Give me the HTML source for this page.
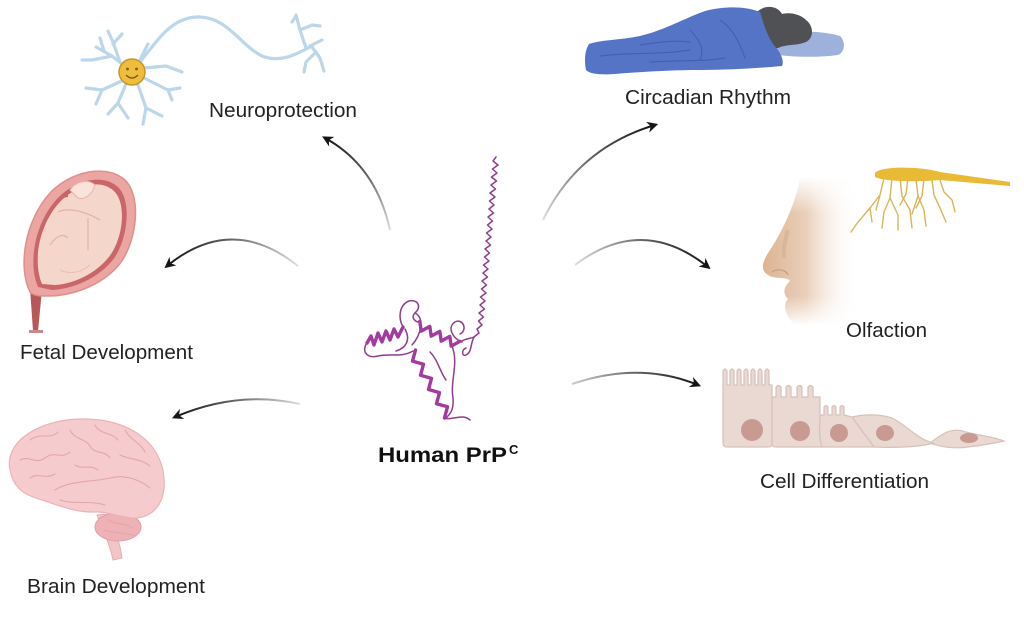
<!DOCTYPE html>
<html>
<head>
<meta charset="utf-8">
<style>
html,body{margin:0;padding:0;background:#fff;}
svg{display:block;}
text{font-family:"Liberation Sans",Arial,sans-serif;fill:#222;}
</style>
</head>
<body>
<svg width="1024" height="629" viewBox="0 0 1024 629" xmlns="http://www.w3.org/2000/svg">
<defs>
  <marker id="ah" viewBox="0 0 10 10" refX="7" refY="5" markerWidth="13" markerHeight="11" markerUnits="userSpaceOnUse" orient="auto">
    <path d="M0,0 L10,5 L0,10 L3,5 Z" fill="#151515"/>
  </marker>
  <linearGradient id="g1" gradientUnits="userSpaceOnUse" x1="390" y1="230" x2="325" y2="138"><stop offset="0" stop-color="#ddd"/><stop offset="0.5" stop-color="#666"/><stop offset="1" stop-color="#111"/></linearGradient>
  <linearGradient id="g2" gradientUnits="userSpaceOnUse" x1="298" y1="266" x2="166" y2="267"><stop offset="0" stop-color="#ddd"/><stop offset="0.5" stop-color="#666"/><stop offset="1" stop-color="#111"/></linearGradient>
  <linearGradient id="g3" gradientUnits="userSpaceOnUse" x1="300" y1="404" x2="174" y2="418"><stop offset="0" stop-color="#ddd"/><stop offset="0.5" stop-color="#666"/><stop offset="1" stop-color="#111"/></linearGradient>
  <linearGradient id="g4" gradientUnits="userSpaceOnUse" x1="543" y1="220" x2="655" y2="125"><stop offset="0" stop-color="#ddd"/><stop offset="0.5" stop-color="#666"/><stop offset="1" stop-color="#111"/></linearGradient>
  <linearGradient id="g5" gradientUnits="userSpaceOnUse" x1="575" y1="265" x2="709" y2="267"><stop offset="0" stop-color="#ddd"/><stop offset="0.5" stop-color="#666"/><stop offset="1" stop-color="#111"/></linearGradient>
  <linearGradient id="g6" gradientUnits="userSpaceOnUse" x1="572" y1="384" x2="699" y2="385"><stop offset="0" stop-color="#ccc"/><stop offset="0.5" stop-color="#666"/><stop offset="1" stop-color="#111"/></linearGradient>
  <linearGradient id="skin" x1="0" y1="0" x2="1" y2="0">
    <stop offset="0" stop-color="#dcb392"/>
    <stop offset="0.45" stop-color="#ead0bb"/>
    <stop offset="1" stop-color="#ffffff" stop-opacity="0"/>
  </linearGradient>
  <linearGradient id="skinv" x1="0" y1="0" x2="0" y2="1">
    <stop offset="0" stop-color="#fff" stop-opacity="1"/>
    <stop offset="0.25" stop-color="#fff" stop-opacity="0"/>
    <stop offset="0.8" stop-color="#fff" stop-opacity="0"/>
    <stop offset="1" stop-color="#fff" stop-opacity="1"/>
  </linearGradient>
</defs>

<!-- ===== Neuron ===== -->
<g fill="none" stroke="#bcd6ea" stroke-width="3.2" stroke-linecap="round" stroke-linejoin="round">
  <path d="M140,62 C158,40 172,16 200,17 C228,18 240,45 262,56 C282,64 300,52 312,46"/>
  <path d="M306,48 L300,30 L296,15"/>
  <path d="M300,30 L312,25 L320,26"/>
  <path d="M310,46 L322,40"/>
  <path d="M312,47 L320,58 L324,71"/>
  <path d="M316,52 L306,62 L304,72"/>
  <path d="M296,16 L292,22"/>
  <path d="M132,72 L112,56 L96,47"/>
  <path d="M112,56 L92,60 L82,60"/>
  <path d="M120,62 L113,42 L108,31"/>
  <path d="M113,44 L122,34"/>
  <path d="M104,51 L100,38"/>
  <path d="M124,80 L102,90 L86,88"/>
  <path d="M102,90 L96,104"/>
  <path d="M126,84 L118,103 L108,114"/>
  <path d="M118,103 L128,118"/>
  <path d="M138,85 L146,108 L143,124"/>
  <path d="M146,108 L162,116"/>
  <path d="M144,78 L168,90 L180,88"/>
  <path d="M168,90 L172,100"/>
  <path d="M144,68 L166,66 L182,72"/>
  <path d="M140,60 L148,44"/>
</g>
<circle cx="132" cy="72" r="13" fill="#efbd3c" stroke="#c6962a" stroke-width="1.5"/>
<circle cx="127.5" cy="69" r="1.4" fill="#7a5a1a"/>
<circle cx="136.5" cy="69" r="1.4" fill="#7a5a1a"/>
<path d="M126,75 Q132,81 138,75" fill="none" stroke="#7a5a1a" stroke-width="1.3"/>

<!-- ===== Fetus / uterus ===== -->
<path d="M30,288 L42,290 L38,331 L33,331 Z" fill="#b7575a"/>
<path d="M29,330 L43,330 L43,333 L29,333 Z" fill="#c98a8a"/>
<path d="M30,292 C18,268 24,222 50,193 C70,172 105,163 125,180 C143,198 136,245 118,266 C100,286 72,296 48,296 C40,296 34,296 30,292 Z" fill="#eba6a3" stroke="#df8f8d" stroke-width="1.5"/>
<path d="M38,287 C28,264 34,225 56,200 C74,180 102,173 118,187 C133,202 127,243 112,261 C97,279 72,289 52,290 Z" fill="#c9666a"/>
<path d="M42,284 C33,262 38,228 58,204 C75,185 100,178 114,191 C128,205 122,242 108,258 C94,275 72,284 55,285 Z" fill="#f5d6cb"/>
<path d="M70,190 C75,182 88,178 95,185 C92,195 85,200 78,198 Z" fill="#f9e3da" stroke="#e3b4aa" stroke-width="1"/>
<path d="M58,212 C70,206 90,214 100,220" fill="none" stroke="#e0b3a8" stroke-width="1.2"/>
<path d="M88,218 L88,250" fill="none" stroke="#e0b3a8" stroke-width="1.2"/>
<path d="M50,245 C55,238 62,232 68,238" fill="none" stroke="#e0b3a8" stroke-width="1.2"/>
<path d="M60,270 C70,275 82,272 90,265" fill="none" stroke="#e6bfb4" stroke-width="1"/>
<path d="M55,205 C60,200 62,196 68,196" fill="none" stroke="#c9666a" stroke-width="2"/>

<!-- ===== Brain ===== -->
<path d="M97,515 C103,530 110,545 113,560 L122,558 C120,542 114,528 110,514 Z" fill="#f2c6c9" stroke="#e6aeb3" stroke-width="1"/>
<ellipse cx="118" cy="527" rx="23" ry="14" fill="#eeb1b6" stroke="#e3a0a6" stroke-width="1"/>
<path d="M10,470 C4,442 38,420 80,419 C126,418 161,440 164,478 C166,504 152,519 132,518 C120,517 108,512 98,512 C75,513 58,505 42,500 C20,494 13,485 10,470 Z" fill="#f6cbce" stroke="#eab3b7" stroke-width="1.2"/>
<g fill="none" stroke="#e3a5ab" stroke-width="1.1" stroke-linecap="round">
  <path d="M55,490 C70,480 95,482 110,478 C125,474 140,480 150,488"/>
  <path d="M20,460 C30,455 35,465 45,458 C55,450 60,460 70,452"/>
  <path d="M30,440 C40,432 50,440 58,432"/>
  <path d="M70,430 C75,440 85,438 90,446 C95,455 105,450 110,458"/>
  <path d="M95,425 C100,435 112,432 118,440"/>
  <path d="M125,430 C130,440 140,442 145,452"/>
  <path d="M120,455 C130,460 140,458 150,466"/>
  <path d="M30,478 C38,472 45,480 55,474"/>
  <path d="M75,465 C82,470 90,464 98,470"/>
  <path d="M60,500 C75,505 90,500 105,505"/>
  <path d="M108,520 C115,525 125,522 132,528"/>
  <path d="M104,530 C115,534 125,532 136,536"/>
</g>

<!-- ===== Sleeping person ===== -->
<path d="M770,38 C790,30 820,30 840,36 C846,42 845,52 838,55 C815,58 790,57 770,54 Z" fill="#9eb1dc"/>
<path d="M757,12 C765,4 778,6 782,14 C790,12 800,14 806,20 C814,26 814,38 806,42 C796,46 786,44 778,48 L766,50 C760,40 756,25 757,12 Z" fill="#4f5155"/>
<path d="M589,44 C600,40 620,40 640,36 C665,30 685,18 705,11 C725,6 745,6 760,12 C764,25 768,40 778,50 C782,56 784,62 782,66 C760,68 730,70 700,70 C670,70 640,72 615,74 C600,75 590,74 586,70 C584,60 585,50 589,44 Z" fill="#5674c6"/>
<g fill="none" stroke="#4560ad" stroke-width="1.2" stroke-linecap="round">
  <path d="M600,56 C630,52 660,55 690,50"/>
  <path d="M650,62 C680,60 700,62 725,58"/>
  <path d="M690,30 C700,40 705,50 700,60"/>
  <path d="M720,20 C735,30 740,45 745,58"/>
  <path d="M640,45 C660,42 675,40 690,42"/>
</g>

<!-- ===== Nose & olfactory neuron ===== -->
<path d="M800,178 C795,205 782,232 770,250 C762,262 760,270 768,275 C776,280 786,276 790,281 C784,287 782,293 788,299 C782,306 786,316 794,324 L860,324 L860,178 Z" fill="url(#skin)"/>
<rect x="760" y="176" width="105" height="150" fill="url(#skinv)"/>
<path d="M772,272 C778,268 786,270 788,275" fill="none" stroke="#c99d7c" stroke-width="1.2"/>
<path d="M788,230 C785,240 783,250 784,258" fill="none" stroke="#d2ab8c" stroke-width="4" opacity="0.5"/>
<g fill="none" stroke="#d9b558" stroke-width="1.4" stroke-linecap="round">
  <path d="M884,178 L880,195 L870,208 L858,222 L851,232"/>
  <path d="M870,208 L872,222"/>
  <path d="M892,178 L890,198 L884,212 L882,228"/>
  <path d="M890,198 L898,215 L898,230"/>
  <path d="M900,178 L902,196 L910,210 L912,228"/>
  <path d="M908,178 L906,194 L900,205"/>
  <path d="M916,179 L918,196 L924,210 L926,226"/>
  <path d="M924,179 L922,196 L916,208"/>
  <path d="M932,180 L934,195 L940,208 L946,222"/>
  <path d="M940,180 L944,192 L952,200 L955,212"/>
  <path d="M880,195 L876,210"/>
  <path d="M918,196 L912,214"/>
</g>
<path d="M875,173 C880,166 920,166 940,172 L1010,182 L1010,186 L940,180 C920,182 885,182 875,177 Z" fill="#e8ba35"/>

<!-- ===== Cells ===== -->
<g fill="#ead8d2" stroke="#d7c1ba" stroke-width="1.2">
  <path d="M966,432 C950,426 940,436 930,443 C940,447 955,449 968,447 C985,445 995,443 1004,441 C995,437 982,436 966,432 Z"/>
  <path d="M852,417 C865,414 880,414 892,418 C905,424 918,440 934,443 C920,447 895,448 874,447 C866,436 858,426 852,417 Z"/>
  <path d="M820,415 L824,415 L824,407 Q826,404 828,407 L828,415 L832,415 L832,407 Q834,404 836,407 L836,415 L840,415 L840,407 Q842,404 844,407 L844,415 L852,417 C858,426 866,436 874,447 L822,447 C818,435 820,425 820,415 Z"/>
  <path d="M772,397 L776,397 L776,387 Q778.5,384 781,387 L781,397 L786,397 L786,387 Q788.5,384 791,387 L791,397 L797,397 L797,387 Q799.5,384 802,387 L802,397 L808,397 L808,387 Q810.5,384 813,387 L813,397 L820,397 L820,415 C820,425 818,435 822,447 L776,447 Q772,447 772,443 Z"/>
  <path d="M723,385 L723,371 Q725,367 727,371 L727,385 L730,385 L730,371 Q732,367 734,371 L734,385 L737,385 L737,371 Q739,367 741,371 L741,385 L744,385 L744,371 Q746,367 748,371 L748,385 L751,385 L751,371 Q753,367 755,371 L755,385 L758,385 L758,371 Q760,367 762,371 L762,385 L765,385 L765,371 Q767,367 769,371 L769,385 L772,385 L772,443 Q772,447 768,447 L727,447 Q723,447 723,443 Z"/>
</g>
<g fill="#c99a91">
  <circle cx="752" cy="430" r="11"/>
  <circle cx="800" cy="431" r="10"/>
  <circle cx="839" cy="433" r="9"/>
  <ellipse cx="885" cy="433" rx="9" ry="8"/>
  <ellipse cx="969" cy="438" rx="9" ry="5"/>
</g>

<!-- ===== Protein ===== -->
<g fill="none" stroke="#8f3d8e" stroke-width="1.5" stroke-linejoin="round" stroke-linecap="round">
  <polyline points="496,157 493,161 498,165 492.5,169 497,173 491.5,177 496.5,181 491,185 495.5,189 490,193 495,197 489.5,201 494,205 489,209 493.5,213 488,217 492.5,221 487.5,225 492,229 486.5,233 491,237 486,241 490.5,245 485,249 489.5,253 484.5,257 489,261 483.5,265 488,269 483,273 487.5,277 482,281 486.5,285 481.5,289 486,293 480.5,297 485,301 480,305 484.5,309 479,313 483.5,317 478.5,321 482,325 477,329 479,333 474,337"/>
  <path d="M474,337 C470,345 472,352 466,355 C462,357 461,350 466,348"/>
  <path d="M462,342 C452,338 447,327 455,322 C463,318 468,330 460,334"/>
  <path d="M403,327 C398,318 399,305 409,301 C418,299 422,307 415,313 C410,318 416,322 419,322"/>
  <path d="M367,343 C361,351 367,359 378,356 C390,353 401,358 413,351"/>
  <path d="M415,313 C425,318 421,335 412,345"/>
  <path d="M444,418 C452,421 462,413 470,420"/>
  <path d="M452,346 C459,364 450,380 453,398 C454,410 450,414 447,417"/>
  <path d="M405,329 C411,340 406,348 396,351"/>
  <path d="M460,342 C466,338 470,339 474,337"/>
  <path d="M430,352 C438,360 440,372 446,380"/>
</g>
<g fill="none" stroke="#a33a9f" stroke-width="3.4" stroke-linejoin="round" stroke-linecap="round">
  <polyline points="367,343 371,336 374,345 378,333 382,342 386,331 390,340 394,329 398,337 403,327"/>
  <polyline points="415.5,350 412.5,361.1 423.5,364.2 420.5,375.3 431.5,378.4 428.5,389.5 439.5,392.6 436.5,403.7 447.5,406.8 444.5,418"/>
  <polyline points="419.8,321.4 421.2,331.1 429.8,326.4 431.2,336.1 439.8,331.4 441.2,341.1 449.8,336.4 451.2,346.1 459.8,341.4"/>
</g>

<!-- ===== Arrows ===== -->
<g fill="none" stroke-width="2" marker-end="url(#ah)">
  <path d="M390,230 Q376,166 325,138" stroke="url(#g1)"/>
  <path d="M298,266 Q232,213 167,266" stroke="url(#g2)"/>
  <path d="M300,404 Q238,390 175,417" stroke="url(#g3)"/>
  <path d="M543,220 Q578,148 655,125" stroke="url(#g4)"/>
  <path d="M575,265 Q642,214 708,267" stroke="url(#g5)"/>
  <path d="M572,384 Q640,361 698,385" stroke="url(#g6)"/>
</g>

<!-- ===== Labels ===== -->
<text x="209" y="117" font-size="20.5" textLength="148" lengthAdjust="spacingAndGlyphs">Neuroprotection</text>
<text x="625" y="104" font-size="20.5" textLength="166" lengthAdjust="spacingAndGlyphs">Circadian Rhythm</text>
<text x="20" y="359" font-size="20.5" textLength="173" lengthAdjust="spacingAndGlyphs">Fetal Development</text>
<text x="846" y="337" font-size="20.5" textLength="81" lengthAdjust="spacingAndGlyphs">Olfaction</text>
<text x="760" y="488" font-size="20.5" textLength="169" lengthAdjust="spacingAndGlyphs">Cell Differentiation</text>
<text x="27" y="593" font-size="20.5" textLength="178" lengthAdjust="spacingAndGlyphs">Brain Development</text>
<text x="378" y="462" font-size="21" font-weight="bold" textLength="129" lengthAdjust="spacingAndGlyphs" style="fill:#111">Human PrP</text>
<text x="509" y="454" font-size="13" font-weight="bold" style="fill:#111">C</text>
</svg>
</body>
</html>
